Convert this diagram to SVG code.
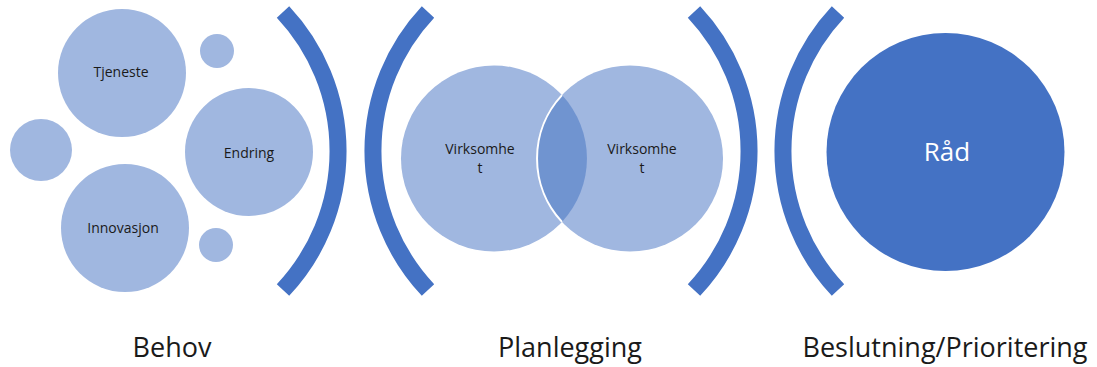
<svg xmlns="http://www.w3.org/2000/svg" width="1097" height="367" viewBox="0 0 1097 367">
<style>
.light{fill:#A0B7E0}
.dark{fill:#4472C4}
.bracket{fill:none;stroke:#4472C4;stroke-width:17;stroke-linecap:butt}
.lbl{font-family:"Open Sans","Liberation Sans",sans-serif;font-size:14px;fill:#1a1a1a;text-anchor:middle}
.big{font-family:"Open Sans","Liberation Sans",sans-serif;font-size:27px;fill:#1a1a1a;text-anchor:middle}
.rad{font-family:"Open Sans","Liberation Sans",sans-serif;font-size:26px;fill:#ffffff;text-anchor:middle}
</style>
<rect width="1097" height="367" fill="#ffffff"/>
<g id="connectors">
<path class="bracket" d="M283,12 A203,203 0 0,1 283,290"/>
<path class="bracket" d="M428,12 A203,203 0 0,0 428,290"/>
<path class="bracket" d="M694,12 A203,203 0 0,1 694,290"/>
<path class="bracket" d="M838,12 A203,203 0 0,0 838,290"/>
</g>
<g id="tjeneste"><circle class="light" cx="122" cy="73" r="64"/><text class="lbl" x="121" y="77">Tjeneste</text></g>
<g id="endring"><circle class="light" cx="249" cy="152" r="64"/><text class="lbl" x="249" y="158">Endring</text></g>
<g id="innovasjon"><circle class="light" cx="125" cy="228" r="64"/><text class="lbl" x="123" y="233">Innovasjon</text></g>
<g id="small-top"><circle class="light" cx="217" cy="51" r="17"/></g>
<g id="small-left"><circle class="light" cx="41" cy="150" r="31"/></g>
<g id="small-bottom"><circle class="light" cx="216" cy="245" r="17"/></g>
<g id="virksomhet-left"><circle class="light" cx="494" cy="158.5" r="93"/></g>
<g id="virksomhet-right"><circle class="light" cx="630" cy="158.5" r="93"/></g>
<g id="overlap">
<path fill="#7094D0" d="M562,95.1 A93,93 0 0,1 562,221.9 A93,93 0 0,1 562,95.1 Z"/>
<path fill="none" stroke="#ffffff" stroke-width="2" d="M562,95.1 A93,93 0 0,0 562,221.9"/>
</g>
<g id="virksomhet-left-text"><text class="lbl" x="480" y="154">Virksomhe</text><text class="lbl" x="480" y="173">t</text></g>
<g id="virksomhet-right-text"><text class="lbl" x="642" y="154">Virksomhe</text><text class="lbl" x="642" y="173">t</text></g>
<g id="rad"><circle class="dark" cx="945.5" cy="152" r="119"/><text class="rad" x="947" y="161">Råd</text></g>
<g id="labels">
<text class="big" x="172" y="357">Behov</text>
<text class="big" x="570" y="357">Planlegging</text>
<text class="big" x="945" y="357">Beslutning/Prioritering</text>
</g>
</svg>
